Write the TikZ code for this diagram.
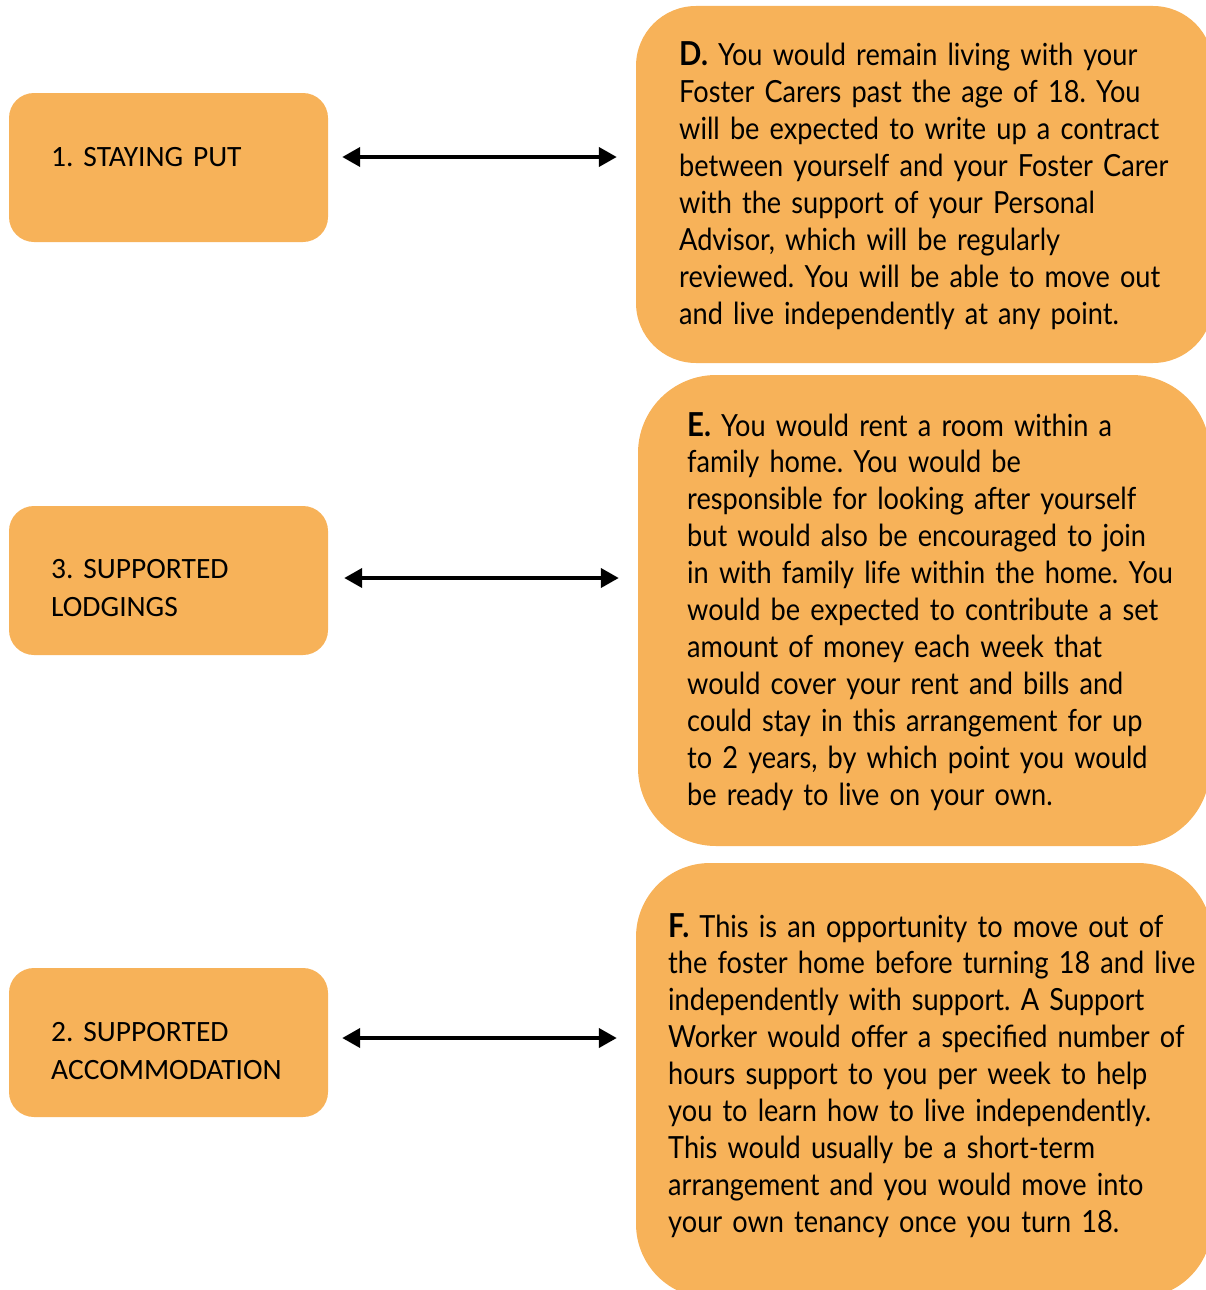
\documentclass[tikz,border=0pt]{standalone}
\usepackage{fontspec}
\setmainfont{Lato}[FakeStretch=0.89]
\newfontfamily\calib{Carlito}
\usetikzlibrary{arrows.meta}
\definecolor{boxorange}{RGB}{247,178,89}
\newcommand{\boxlabel}[1]{{\fontsize{33}{36.9}\selectfont\bfseries #1}}
\tikzset{
  leftbox/.style={fill=boxorange, draw=none, rounded corners=25pt, minimum width=319pt, minimum height=149pt, inner sep=0pt},
  rightbox/.style={fill=boxorange, draw=none, inner sep=0pt},
  ltext/.style={anchor=base west, inner sep=0pt, text width=300pt, align=left, font=\calib\fontsize{29.5}{38}\selectfont},
  rtext/.style={anchor=base west, inner sep=0pt, text width=600pt, align=left, font=\fontsize{30.5}{36.9}\selectfont},
  link/.style={line width=4pt, {Triangle[length=18pt,width=19pt]}-{Triangle[length=18pt,width=19pt]}}
}
\begin{document}
\frenchspacing
\begin{tikzpicture}[x=1pt,y=-1pt]
\useasboundingbox (0,0) rectangle (1206,1290);
\clip (0,0) rectangle (1206,1290);
% left boxes
\node[leftbox] (b1) at (168.5,167.5) {};
\node[leftbox] (b3) at (168.5,580.5) {};
\node[leftbox] (b2) at (168.5,1042.5) {};
% right boxes
\node[rightbox, rounded corners=60pt, minimum width=577pt, minimum height=357pt] (d) at (924.5,184.5) {};
\node[rightbox, rounded corners=78pt, minimum width=572pt, minimum height=471pt] (e) at (924,610.5) {};
\node[rightbox, rounded corners=74pt, minimum width=576pt, minimum height=435pt] (f) at (924,1080.5) {};
% left texts
\node[ltext] (t1) at (51,166) {1. STAYING PUT};
\node[ltext] (t3) at (51,578) {3. SUPPORTED\\LODGINGS};
\node[ltext] (t2) at (51,1041) {2. SUPPORTED\\ACCOMMODATION};
% right texts
\node[rtext] (td) at (679,66) {\boxlabel{D.} You would remain living with your\\
Foster Carers past the age of 18. You\\
will be expected to write up a contract\\
between yourself and your Foster Carer\\
with the support of your Personal\\
Advisor, which will be regularly\\
reviewed. You will be able to move out\\
and live independently at any point.};
\node[rtext] (te) at (687,436) {\boxlabel{E.} You would rent a room within a\\
family home. You would be\\
responsible for looking after yourself\\
but would also be encouraged to join\\
in with family life within the home. You\\
would be expected to contribute a set\\
amount of money each week that\\
would cover your rent and bills and\\
could stay in this arrangement for up\\
to 2 years, by which point you would\\
be ready to live on your own.};
\node[rtext] (tf) at (668,937) {\boxlabel{F.} This is an opportunity to move out of\\
the foster home before turning 18 and live\\
independently with support. A Support\\
Worker would offer a specified number of\\
hours support to you per week to help\\
you to learn how to live independently.\\
This would usually be a short-term\\
arrangement and you would move into\\
your own tenancy once you turn 18.};
% connectors
\draw[link] ([shift={(14pt,10.5pt)}]b1.east) -- ([shift={(-19pt,27.5pt)}]d.west);
\draw[link] ([shift={(16pt,2.5pt)}]b3.east) -- ([shift={(-19pt,32.5pt)}]e.west);
\draw[link] ([shift={(14pt,4.5pt)}]b2.east) -- ([shift={(-19pt,42.5pt)}]f.west);
\end{tikzpicture}
\end{document}
